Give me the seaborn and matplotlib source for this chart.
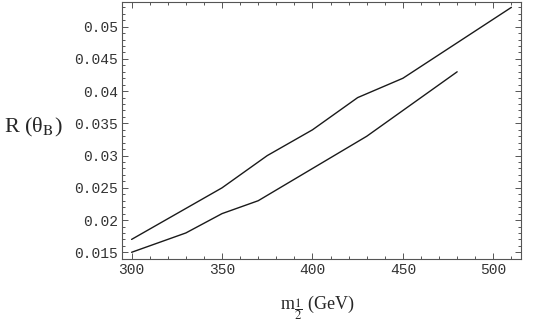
import numpy as np
import pandas as pd
import matplotlib
matplotlib.use("Agg")
import matplotlib.pyplot as plt
import seaborn as sns
from matplotlib.ticker import MultipleLocator

# Data
upper_x = [300, 350, 375, 400, 425, 450, 510]
upper_y = [0.017, 0.025, 0.030, 0.034, 0.039, 0.042, 0.053]
lower_x = [300, 330, 350, 370, 400, 430, 480]
lower_y = [0.015, 0.018, 0.021, 0.023, 0.028, 0.033, 0.043]

df = pd.DataFrame({
    "m": upper_x + lower_x,
    "R": upper_y + lower_y,
    "series": ["upper"] * len(upper_x) + ["lower"] * len(lower_x),
})

sns.set_style("white")
plt.rcParams["mathtext.fontset"] = "stix"

fig = plt.figure(figsize=(5.45, 3.34), dpi=100)
ax = fig.add_axes([122 / 545, 1 - 259 / 334, 399 / 545, 257 / 334])

sns.lineplot(data=df, x="m", y="R", hue="series", units="series", estimator=None,
             palette={"upper": "#1a1a1a", "lower": "#1a1a1a"}, linewidth=1.0,
             legend=False, ax=ax, sort=False)

ax.set_xlim(294.7, 515.3)
ax.set_ylim(0.01396, 0.05383)

ax.xaxis.set_major_locator(MultipleLocator(50))
ax.xaxis.set_minor_locator(MultipleLocator(10))
ax.yaxis.set_major_locator(MultipleLocator(0.005))
ax.yaxis.set_minor_locator(MultipleLocator(0.001))

def yfmt(v, pos):
    return f"{v:.3f}".rstrip("0")
ax.yaxis.set_major_formatter(matplotlib.ticker.FuncFormatter(yfmt))
ax.xaxis.set_major_formatter(matplotlib.ticker.FuncFormatter(lambda v, p: f"{int(round(v))}"))

edge = "#555555"
for sp in ax.spines.values():
    sp.set_color(edge)
    sp.set_linewidth(0.8)
    sp.set_visible(True)

ax.tick_params(which="both", direction="in", top=True, right=True, bottom=True, left=True,
               color=edge, width=0.7)
ax.tick_params(which="major", length=4)
ax.tick_params(which="minor", length=2)
ax.tick_params(axis="both", which="major", labelsize=10.5, labelcolor="#333333", pad=3)
for lab in ax.get_xticklabels() + ax.get_yticklabels():
    lab.set_fontfamily("Liberation Mono")

ax.set_xlabel(r"m$_{\dfrac{1}{2}}$ (GeV)", fontsize=13, family="Liberation Serif",
              va="baseline")
ax.set_ylabel(r"R (θ$_{\mathrm{B}}$)", fontsize=16, family="Liberation Serif", rotation=0,
              ha="center", va="center")
ax.xaxis.set_label_coords(0.49, -0.198)
ax.yaxis.set_label_coords(-0.222, 0.51)

fig.savefig("out.png", dpi=100)
